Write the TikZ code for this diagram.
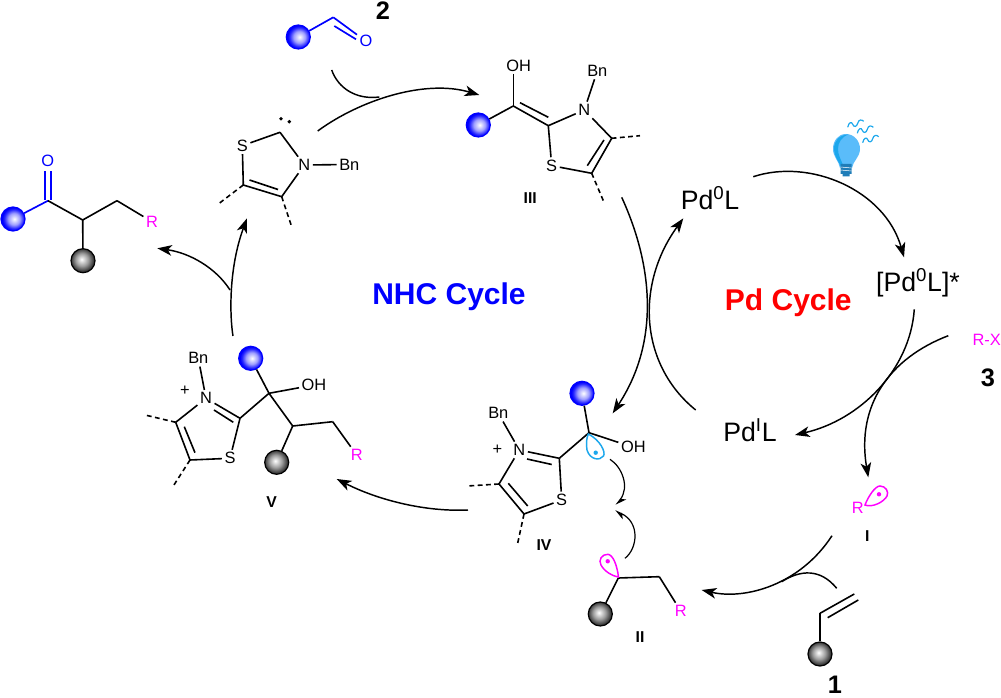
\documentclass[tikz,border=0pt]{standalone}
\usepackage{fontspec}
\setmainfont{Liberation Sans}
\usetikzlibrary{arrows.meta,positioning}
\definecolor{lobecyan}{HTML}{1CA7EC}
\definecolor{bulbblue}{HTML}{5ABCFA}
\definecolor{bulbdark}{HTML}{1F7DB8}
\definecolor{rpink}{HTML}{FF00FF}
\definecolor{ballblue}{HTML}{0000FF}
\pgfdeclareradialshading{blueglow}{\pgfpoint{3bp}{0bp}}{color(0bp)=(white); color(12bp)=(ballblue!38!white); color(20bp)=(ballblue!85!white); color(24bp)=(ballblue); color(50bp)=(ballblue)}
\pgfdeclareradialshading{grayglow}{\pgfpoint{-3bp}{3bp}}{color(0bp)=(white); color(13bp)=(black!38); color(24bp)=(black!80); color(50bp)=(black!80)}
\tikzset{
    atom/.style={font=\fontsize{12.3}{14}\selectfont,inner sep=1.8pt},
    ratom/.style={atom,text=rpink},
    batom/.style={atom,text=blue},
    cname/.style={font=\bfseries\fontsize{11.8}{14}\selectfont,inner sep=0pt},
    cnum/.style={font=\bfseries\fontsize{19}{20}\selectfont,inner sep=0pt},
    pdname/.style={font=\fontsize{20}{22}\selectfont,inner sep=0pt},
    cyclename/.style={font=\bfseries\fontsize{22.5}{24}\selectfont,inner sep=0pt},
    blueball/.style={circle,draw=blue,line width=.9pt,inner sep=0pt,minimum size=18pt,shade,shading=blueglow},
    grayball/.style={circle,draw=black,line width=.9pt,inner sep=0pt,minimum size=18pt,shade,shading=grayglow},
    bond/.style={line width=1.2pt},
    bbond/.style={line width=1.25pt,draw=blue},
    hbond/.style={line width=1.2pt,dash pattern=on 3.6pt off 2.6pt},
    rxn/.style={line width=1.1pt,->},
    arcline/.style={line width=1.1pt},
    lobe/.style={line width=1.1pt}
}
\begin{document}
\begin{tikzpicture}[x=.75pt,y=-.75pt,>={Stealth[length=11pt,width=8pt,inset=3pt]}]

    \useasboundingbox (0,0) rectangle (1001,698);

    \node[blueball] (pball) at (13,219) {};
    \coordinate (pc1) at (48,200.7);
    \coordinate (pc2) at (82.7,220);
    \coordinate (pc3) at (117,200.7);
    \node[batom] (po) at (47.7,161) {O};
    \node[ratom] (pr) at (152,221.7) {R};
    \node[grayball] (pgray) at (83,260.7) {};
    \coordinate (pa) at (44.7,200);
    \coordinate (pb) at (44.7,171);
    \coordinate (pd) at (51,200);
    \coordinate (pe) at (51,171);

    \foreach \from/\to in {pball/pc1, pa/pb, pd/pe}
        {
        \path[bbond] (\from) edge (\to);
        }

    \foreach \from/\to in {pc1/pc2, pc2/pc3, pc3/pr, pc2/pgray}
        {
        \path[bond] (\from) edge (\to);
        }

    \node[atom] (cs) at (242.3,145.7) {S};
    \node[atom] (cn) at (304.3,165) {N};
    \node[atom] (cbn) at (349.3,164.5) {Bn};
    \coordinate (cc2) at (280,132.3);
    \coordinate (cc4) at (281.7,196.7);
    \coordinate (cc5) at (243.3,185);
    \coordinate (cd1) at (249.5,180);
    \coordinate (cd2) at (278,189.5);
    \coordinate (cm1) at (218.3,204);
    \coordinate (cm2) at (291.7,226.7);

    \foreach \from/\to in {cs/cc2, cc2/cn, cn/cc4, cc4/cc5, cc5/cs, cn/cbn, cd1/cd2}
        {
        \path[bond] (\from) edge (\to);
        }

    \path[hbond] (cc5) edge (cm1);
    \path[hbond] (cc4) edge (cm2);
    \fill (281,118.7) circle (1.9) (289.3,121.7) circle (1.9);

    \node[blueball] (aball) at (298.3,37) {};
    \coordinate (ac) at (333.3,17.3);
    \node[batom] (ao) at (366,41.3) {O};
    \coordinate (ad1) at (334.3,26);
    \coordinate (ad2) at (356,39.3);
    \node[cnum] (two) at (383,11) {2};
    \path[bbond] (aball) edge (ac);
    \path[bbond] (ac) edge (ao);
    \path[bbond] (ad1) edge (ad2);

    \node[blueball] (tball) at (478.3,125) {};
    \node[atom] (toh) at (518.7,65.7) {OH};
    \node[atom] (tn) at (584.3,110) {N};
    \node[atom] (tbn) at (597.3,71) {Bn};
    \node[atom] (ts) at (551.7,165.7) {S};
    \coordinate (tc) at (513.3,106);
    \coordinate (tc2) at (548.3,125.7);
    \coordinate (tc4) at (611.7,138.3);
    \coordinate (tc5) at (591.7,173.3);
    \coordinate (td1) at (520,102.7);
    \coordinate (td2) at (548.3,117.3);
    \coordinate (td3) at (604,140);
    \coordinate (td4) at (587.3,165.7);
    \coordinate (tm1) at (640,135.7);
    \coordinate (tm2) at (604,202.3);
    \coordinate (tohb) at (513.3,74);
    \node[cname] (three) at (530.3,198) {III};

    \foreach \from/\to in {tball/tc, tohb/tc, tc/tc2, tc2/tn, tn/tbn, tn/tc4, tc4/tc5, tc5/ts, ts/tc2, td1/td2, td3/td4}
        {
        \path[bond] (\from) edge (\to);
        }

    \path[hbond] (tc4) edge (tm1);
    \path[hbond] (tc5) edge (tm2);

    \node[blueball] (vball) at (250.7,358.3) {};
    \node[atom] (vbn) at (198.3,358.3) {Bn};
    \node[atom] (vn) at (206,398.3) {N};
    \node[atom] (vplus) at (185,390.7) {+};
    \node[atom] (voh) at (314,385) {OH};
    \node[atom] (vs) at (230,458.3) {S};
    \node[ratom] (vr) at (356.7,455) {R};
    \node[grayball] (vgray) at (276.7,462.3) {};
    \node[cname] (five) at (271.7,502.3) {V};
    \coordinate (vc) at (269,393.3);
    \coordinate (vc2) at (240,418.3);
    \coordinate (vc4) at (175.7,422.3);
    \coordinate (vc5) at (190,460);
    \coordinate (vch) at (292.7,426);
    \coordinate (vcc) at (332.7,421.7);
    \coordinate (vd1) at (214,410);
    \coordinate (vd2) at (233.3,422.3);
    \coordinate (vd3) at (184.3,426.7);
    \coordinate (vd4) at (195,452.7);
    \coordinate (vm1) at (145,415);
    \coordinate (vm2) at (173.3,486);

    \foreach \from/\to in {vball/vc, vc/voh, vc/vch, vc/vc2, vc2/vn, vn/vbn, vn/vc4, vc4/vc5, vc5/vs, vs/vc2, vch/vcc, vcc/vr, vch/vgray, vd1/vd2, vd3/vd4}
        {
        \path[bond] (\from) edge (\to);
        }

    \path[hbond] (vc4) edge (vm1);
    \path[hbond] (vc5) edge (vm2);

    \node[blueball] (fball) at (582,393.3) {};
    \node[atom] (fbn) at (498.3,413.3) {Bn};
    \node[atom] (fn) at (519.3,450) {N};
    \node[atom] (fplus) at (497.3,450) {+};
    \node[atom] (foh) at (633.3,447.3) {OH};
    \node[atom] (fs) at (561.7,500) {S};
    \node[cname] (four) at (544,545) {IV};
    \coordinate (fc) at (589,432.7);
    \coordinate (fc2) at (559.3,458.3);
    \coordinate (fc4) at (499,484);
    \coordinate (fc5) at (524,514);
    \coordinate (fd1) at (527,459);
    \coordinate (fd2) at (551.7,464.5);
    \coordinate (fd3) at (508.3,483.3);
    \coordinate (fd4) at (527.7,506);
    \coordinate (fm1) at (467.3,486);
    \coordinate (fm2) at (517.3,545);

    \foreach \from/\to in {fball/fc, fc/foh, fc/fc2, fc2/fn, fn/fbn, fn/fc4, fc4/fc5, fc5/fs, fs/fc2, fd1/fd2, fd3/fd4}
        {
        \path[bond] (\from) edge (\to);
        }

    \path[hbond] (fc4) edge (fm1);
    \path[hbond] (fc5) edge (fm2);
    \draw[lobe,lobecyan] (588.3,434) .. controls (600,440) and (606,452) .. (603.5,456) .. controls (600,461) and (590,460) .. (587,450) .. controls (586,444) and (586.5,438) .. cycle;
    \fill[lobecyan] (595.7,452.7) circle (2.2);

    \node[grayball] (sgray) at (600.3,614) {};
    \node[ratom] (sr) at (680.7,611) {R};
    \node[cname] (two2) at (640,636.7) {II};
    \coordinate (sch) at (618.3,578);
    \coordinate (scc) at (659.3,576.7);

    \foreach \from/\to in {sch/scc, scc/sr, sch/sgray}
        {
        \path[bond] (\from) edge (\to);
        }

    \draw[lobe,rpink] (618.5,577) .. controls (617,565) and (613,555) .. (608,554.3) .. controls (602,554) and (598,560) .. (601,565) .. controls (604,571) and (612,576) .. cycle;
    \fill[rpink] (607.7,561.3) circle (2.2);

    \node[ratom] (ir) at (857.7,507.7) {R};
    \node[cname] (one1) at (867.3,536) {I};
    \draw[lobe,rpink] (865,505) .. controls (868,497) and (875,486) .. (880,486) .. controls (886,486) and (889,492) .. (887,496) .. controls (884,502) and (872,508) .. cycle;
    \fill[rpink] (879,494.3) circle (2.2);

    \node[grayball] (agray) at (820,654) {};
    \coordinate (al1) at (820,613.3);
    \coordinate (al2) at (854.3,594);
    \coordinate (al3) at (827.7,617.7);
    \coordinate (al4) at (858.3,600);
    \node[cnum] (one) at (835,685) {1};

    \foreach \from/\to in {agray/al1, al1/al2, al3/al4}
        {
        \path[bond] (\from) edge (\to);
        }

    \node[pdname] (pd0) at (710,198.3) {Pd\textsuperscript{0}L};
    \node[pdname] (pdx) at (918,283) {[Pd\textsuperscript{0}L]*};
    \node[pdname] (pd1) at (750,430) {Pd\textsuperscript{I}L};
    \node[cyclename,text=red] (pdc) at (788.3,303) {Pd Cycle};
    \node[cyclename,text=blue] (nhc) at (449,297) {NHC Cycle};
    \node[ratom,inner sep=0pt] (rx) at (986.7,340) {R-X};
    \node[cnum] (three3) at (988,378) {3};

    \fill[bulbblue] (846,134) .. controls (854,134) and (860,141) .. (860,149) .. controls (860,157) and (853,161) .. (852,168) -- (840,168) .. controls (839,161) and (833,157) .. (833,149) .. controls (833,141) and (838,134) .. (846,134) -- cycle;
    \fill[lobecyan] (848,134.5) .. controls (839,135) and (834,141) .. (834,149) .. controls (834,156) and (838,160) .. (841,167) -- (844,167) .. controls (841,160) and (838,155) .. (838,149) .. controls (838,142) and (842,137) .. (848,134.5) -- cycle;
    \fill[bulbdark] (840.5,164) rectangle (851.5,174) (842.5,174) rectangle (849.5,176.5);
    \draw[white,line width=.4pt] (840.5,167) -- (851.5,168) (840.5,170) -- (851.5,171);
    \foreach \wx/\wy in {847.7/127.3, 857.3/133.3, 862.7/142.7}
        {
        \draw[lobecyan,line width=.9pt,shift={(\wx,\wy)}] (0,0) .. controls (1,-5) and (4,-6) .. (5,-3) .. controls (6,0) and (9,0) .. (10,-4) .. controls (11,-8) and (14,-8) .. (16,-6);
        }

    \coordinate (a1s) at (317.7,131);
    \coordinate (a1e) at (479.3,95);
    \coordinate (a2s) at (331.7,70);
    \coordinate (a2e) at (379.3,97);
    \draw[rxn] (a1s) .. controls (360,100) and (425,79) .. (a1e);
    \draw[arcline] (a2s) .. controls (338,88) and (356,100) .. (a2e);

    \coordinate (a3s) at (621.7,197.3);
    \coordinate (a3e) at (612.7,413.3);
    \draw[rxn] (a3s) .. controls (655,270) and (658,345) .. (a3e);

    \coordinate (a4s) at (468,510);
    \coordinate (a4e) at (336.7,479);
    \draw[rxn] (a4s) .. controls (425,512) and (378,500) .. (a4e);

    \coordinate (a5s) at (233,336);
    \coordinate (a5m) at (230,290);
    \coordinate (a5e) at (247,218.3);
    \coordinate (a6e) at (157.3,248.3);
    \draw[rxn] (a5s) .. controls (230,318) and (228,270) .. (a5e);
    \draw[rxn] (a5m) .. controls (216,268) and (190,253) .. (a6e);

    \coordinate (b1s) at (753.3,176.7);
    \coordinate (b1e) at (904,257.3);
    \draw[rxn] (b1s) .. controls (810,158) and (885,190) .. (b1e);

    \coordinate (b2s) at (914.3,309.3);
    \coordinate (b2e) at (795,435);
    \draw[rxn] (b2s) .. controls (910,370) and (860,420) .. (b2e);

    \coordinate (b3s) at (948.3,335.7);
    \coordinate (b3e) at (868.3,477.3);
    \draw[rxn] (b3s) .. controls (890,358) and (856,405) .. (b3e);

    \coordinate (b4s) at (695.7,410);
    \coordinate (b4e) at (683.3,218.3);
    \draw[rxn] (b4s) .. controls (640,365) and (635,285) .. (b4e);

    \coordinate (b5s) at (832,535.7);
    \coordinate (b5e) at (701.7,590);
    \draw[rxn] (b5s) .. controls (800,585) and (745,600) .. (b5e);

    \coordinate (b6s) at (836.7,588.3);
    \coordinate (b6e) at (781.7,581.7);
    \draw[arcline] (b6s) .. controls (820,568) and (800,570) .. (b6e);

    \coordinate (h1s) at (610,459.3);
    \coordinate (h1e) at (616,505);
    \draw[line width=.9pt,-{Stealth[left,length=7pt,width=7pt,inset=2pt]}] (h1s) .. controls (622,467) and (630,487) .. (h1e);

    \coordinate (h2s) at (625,558.3);
    \coordinate (h2e) at (615,510.7);
    \draw[line width=.9pt,-{Stealth[left,length=7pt,width=7pt,inset=2pt]}] (h2s) .. controls (638,548) and (640,522) .. (h2e);

\end{tikzpicture}
\end{document}
